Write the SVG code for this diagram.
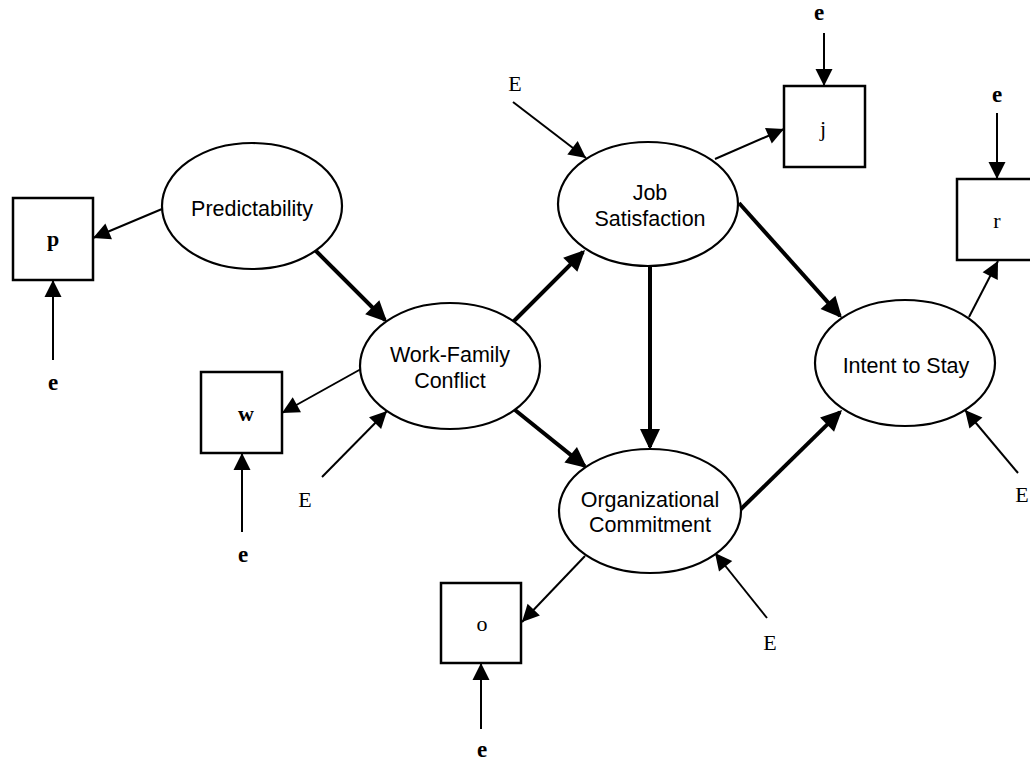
<svg xmlns="http://www.w3.org/2000/svg" width="1030" height="761" viewBox="0 0 1030 761">
<style>
.bg{fill:#fff}
.ell{fill:#fff;stroke:#000;stroke-width:2.2}
.box{fill:#fff;stroke:#000;stroke-width:2.5}
.lbl{font-family:"Liberation Sans",Arial,sans-serif;font-size:21.5px;fill:#000;text-anchor:middle}
.ser{font-family:"Liberation Serif","Times New Roman",serif;font-size:22px;fill:#000;text-anchor:middle}
.ee{font-size:23px;font-weight:bold}
.eb{font-weight:bold}
.thin{stroke:#000;stroke-width:2;fill:none;marker-end:url(#ah)}
.thick{stroke:#000;stroke-width:4;fill:none;marker-end:url(#ahb)}
</style>
<defs>
<marker id="ah" markerUnits="userSpaceOnUse" markerWidth="18" markerHeight="18" refX="17" refY="8.5" orient="auto" overflow="visible">
<path d="M0,0 L17,8.5 L0,17 z" fill="#000"/>
</marker>
<marker id="ahb" markerUnits="userSpaceOnUse" markerWidth="22" markerHeight="21" refX="18" refY="10" orient="auto" overflow="visible">
<path d="M0,0 L21,10 L0,20 z" fill="#000"/>
</marker>
</defs>
<rect class="bg" x="0" y="0" width="1030" height="761"/>

<g id="connectors">
<line class="thin" x1="162" y1="209" x2="93" y2="238"/>
<line class="thin" x1="53" y1="360" x2="53" y2="280"/>
<line class="thin" x1="361" y1="369" x2="282" y2="413"/>
<line class="thin" x1="322" y1="477" x2="387" y2="411"/>
<line class="thin" x1="242" y1="532" x2="242" y2="453"/>
<line class="thin" x1="513" y1="102" x2="586" y2="158"/>
<line class="thin" x1="715" y1="159" x2="784" y2="129"/>
<line class="thin" x1="824" y1="33" x2="824" y2="86"/>
<line class="thin" x1="969" y1="317" x2="998" y2="261"/>
<line class="thin" x1="997" y1="113" x2="997" y2="179"/>
<line class="thin" x1="1018" y1="473" x2="965" y2="410"/>
<line class="thin" x1="585" y1="556" x2="522" y2="622"/>
<line class="thin" x1="481" y1="729" x2="481" y2="663"/>
<line class="thin" x1="767" y1="618" x2="715" y2="553"/>
<line class="thick" x1="315" y1="250" x2="385" y2="320"/>
<line class="thick" x1="513" y1="322" x2="583" y2="252"/>
<line class="thick" x1="515" y1="410" x2="584.7" y2="466.1"/>
<line class="thick" x1="739" y1="203" x2="840" y2="315.8"/>
<line class="thick" x1="650" y1="266" x2="650" y2="447"/>
<line class="thick" x1="740" y1="510" x2="839.9" y2="412.1"/>
</g>

<g id="predictability">
<ellipse class="ell" cx="252" cy="206" rx="90" ry="63"/>
<text class="lbl" x="252" y="216">Predictability</text>
</g>
<g id="work-family-conflict">
<ellipse class="ell" cx="450" cy="366" rx="90" ry="63"/>
<text class="lbl" x="450" y="362">Work-Family</text>
<text class="lbl" x="450" y="388">Conflict</text>
</g>
<g id="job-satisfaction">
<ellipse class="ell" cx="648" cy="204" rx="90" ry="62"/>
<text class="lbl" x="650" y="200">Job</text>
<text class="lbl" x="650" y="226">Satisfaction</text>
</g>
<g id="organizational-commitment">
<ellipse class="ell" cx="650" cy="511" rx="91" ry="62"/>
<text class="lbl" x="650" y="507">Organizational</text>
<text class="lbl" x="650" y="532">Commitment</text>
</g>
<g id="intent-to-stay">
<ellipse class="ell" cx="905" cy="363" rx="90" ry="63"/>
<text class="lbl" x="906" y="373">Intent to Stay</text>
</g>

<g id="box-p">
<rect class="box" x="13" y="198" width="80" height="82"/>
<text class="ser eb" x="53" y="246">p</text>
</g>
<g id="box-w">
<rect class="box" x="201" y="372" width="81" height="81"/>
<text class="ser eb" x="246" y="421" font-size="19">w</text>
</g>
<g id="box-j">
<rect class="box" x="784" y="86" width="81" height="81"/>
<text class="ser" x="823" y="136">j</text>
</g>
<g id="box-r">
<rect class="box" x="957" y="179" width="81" height="81"/>
<text class="ser" x="997" y="228">r</text>
</g>
<g id="box-o">
<rect class="box" x="441" y="583" width="80" height="80"/>
<text class="ser" x="482" y="631">o</text>
</g>

<g id="error-labels">
<text class="ser ee" x="53" y="390">e</text>
<text class="ser ee" x="243" y="562">e</text>
<text class="ser ee" x="819" y="20">e</text>
<text class="ser ee" x="997" y="102">e</text>
<text class="ser ee" x="482" y="757">e</text>
<text class="ser" x="305" y="507">E</text>
<text class="ser" x="515" y="91">E</text>
<text class="ser" x="770" y="650">E</text>
<text class="ser" x="1022" y="502">E</text>
</g>
</svg>
